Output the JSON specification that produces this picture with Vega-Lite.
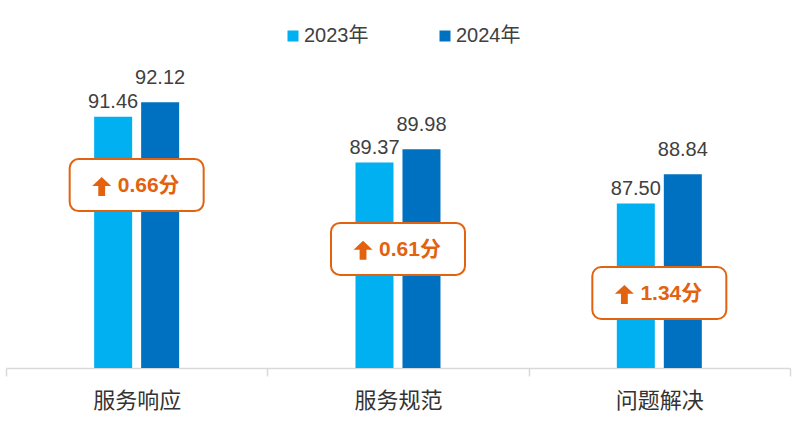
{
  "$schema": "https://vega.github.io/schema/vega-lite/v6.json",
  "autosize": {"type": "none"},
  "width": 784,
  "height": 307,
  "padding": {"left": 6, "top": 61, "right": 16, "bottom": 57},
  "background": "white",
  "config": {
    "view": {"stroke": null},
    "font": "Liberation Sans, Noto Sans CJK SC, sans-serif"
  },
  "datasets": {
    "scores": [
      {"category": "服务响应", "year": "2023年", "score": 91.46},
      {"category": "服务响应", "year": "2024年", "score": 92.12},
      {"category": "服务规范", "year": "2023年", "score": 89.37},
      {"category": "服务规范", "year": "2024年", "score": 89.98},
      {"category": "问题解决", "year": "2023年", "score": 87.50},
      {"category": "问题解决", "year": "2024年", "score": 88.84}
    ],
    "notes": [
      {"category": "服务响应", "label": "0.66分", "anchor": 88.34},
      {"category": "服务规范", "label": "0.61分", "anchor": 85.43},
      {"category": "问题解决", "label": "1.34分", "anchor": 83.42}
    ]
  },
  "data": {"name": "scores"},
  "encoding": {
    "x": {
      "field": "category",
      "type": "nominal",
      "sort": ["服务响应", "服务规范", "问题解决"],
      "scale": {"paddingInner": 0, "paddingOuter": 0},
      "axis": {
        "title": null,
        "labelAngle": 0,
        "labelFontSize": 22,
        "labelColor": "#333333",
        "labelFont": "Liberation Sans, Noto Sans CJK SC, sans-serif",
        "labelPadding": 14,
        "domainColor": "#D9D9D9",
        "domainWidth": 1.5,
        "tickColor": "#D9D9D9",
        "tickWidth": 1.5,
        "tickSize": 8,
        "tickBand": "extent"
      }
    }
  },
  "layer": [
    {
      "mark": {"type": "bar"},
      "encoding": {
        "xOffset": {
          "field": "year",
          "type": "nominal",
          "scale": {"range": [88.15, 173.15], "paddingInner": 0.1915, "paddingOuter": 0}
        },
        "y": {
          "field": "score",
          "type": "quantitative",
          "scale": {"domain": [80, 94], "zero": false, "nice": false},
          "axis": null
        },
        "y2": {"datum": 80},
        "color": {
          "field": "year",
          "type": "nominal",
          "scale": {"domain": ["2023年", "2024年"], "range": ["#00B0F0", "#0070C0"]},
          "legend": {
            "title": null,
            "orient": "none",
            "direction": "horizontal",
            "legendX": 277,
            "legendY": -35,
            "symbolType": "square",
            "symbolSize": 121,
            "symbolStrokeWidth": 0,
            "labelFontSize": 20,
            "labelColor": "#404040",
            "labelFont": "Liberation Sans, Noto Sans CJK SC, sans-serif",
            "labelOffset": 1,
            "columnPadding": 66
          }
        }
      }
    },
    {
      "transform": [{"filter": "datum.year === '2023年'"}],
      "mark": {"type": "text", "baseline": "alphabetic", "dy": -9, "fontSize": 20, "color": "#404040"},
      "encoding": {
        "xOffset": {"field": "year", "type": "nominal"},
        "y": {"field": "score", "type": "quantitative"},
        "text": {"field": "score", "type": "quantitative", "format": ".2f"}
      }
    },
    {
      "transform": [{"filter": "datum.year === '2024年'"}],
      "mark": {"type": "text", "baseline": "alphabetic", "dy": -18, "fontSize": 20, "color": "#404040"},
      "encoding": {
        "xOffset": {"field": "year", "type": "nominal"},
        "y": {"field": "score", "type": "quantitative"},
        "text": {"field": "score", "type": "quantitative", "format": ".2f"}
      }
    },
    {
      "data": {"name": "notes"},
      "mark": {
        "type": "rect",
        "width": 134,
        "height": 52,
        "cornerRadius": 9,
        "fill": "white",
        "stroke": "#E2620F",
        "strokeWidth": 2
      },
      "encoding": {
        "y": {"field": "anchor", "type": "quantitative"}
      }
    },
    {
      "data": {"name": "notes"},
      "mark": {
        "type": "point",
        "shape": "M-3.68,-0.85 L-2.68,0.08 L-3.32,0.08 L-3.32,1.15 L-4.04,1.15 L-4.04,0.08 L-4.68,0.08 Z",
        "size": 361,
        "filled": true,
        "opacity": 1,
        "strokeWidth": 0,
        "color": "#E2620F"
      },
      "encoding": {
        "y": {"field": "anchor", "type": "quantitative"}
      }
    },
    {
      "data": {"name": "notes"},
      "mark": {
        "type": "text",
        "baseline": "middle",
        "dx": 12,
        "dy": 1,
        "fontSize": 21,
        "fontWeight": "bold",
        "color": "#E2620F"
      },
      "encoding": {
        "y": {"field": "anchor", "type": "quantitative"},
        "text": {"field": "label", "type": "nominal"}
      }
    }
  ]
}
